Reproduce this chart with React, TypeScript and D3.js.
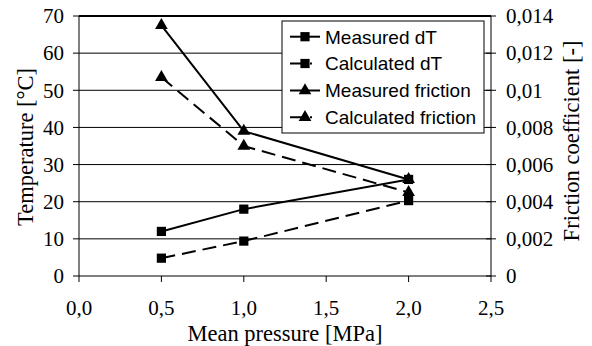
import React from "react";
import * as d3 from "d3";

const pressure = [0.5, 1.0, 2.0];
const measuredDT = [12, 18, 26];
const calculatedDT = [4.8, 9.4, 20.3];
const measuredFriction = [0.0135, 0.0078, 0.0052];
const calculatedFriction = [0.0107, 0.007, 0.0045];
const xTicks = [0, 0.5, 1, 1.5, 2, 2.5];
const yLeftTicks = [0, 10, 20, 30, 40, 50, 60, 70];
const yRightTicks = [0, 0.002, 0.004, 0.006, 0.008, 0.01, 0.012, 0.014];
const legendLabels = ["Measured dT", "Calculated dT", "Measured friction", "Calculated friction"];

const W = 592, H = 346;
const L = 79, R = 491, T = 16, B = 276;
const serif = "'Liberation Serif', 'Times New Roman', serif";
const sans = "'Liberation Sans', Arial, sans-serif";
const DASH = "14,7";

export default function App() {
  const x = d3.scaleLinear().domain([0, 2.5]).range([L, R]);
  const yL = d3.scaleLinear().domain([0, 70]).range([B, T]);
  const yR = d3.scaleLinear().domain([0, 0.014]).range([B, T]);
  const fmtX = (v: number) => v.toFixed(1).replace(".", ",");
  const fmtR = (v: number) => (v === 0 ? "0" : String(+v.toFixed(3)).replace(".", ","));

  const series = [
    { vals: measuredDT, y: yL, dash: undefined as string | undefined, marker: "square" },
    { vals: calculatedDT, y: yL, dash: DASH, marker: "square" },
    { vals: measuredFriction, y: yR, dash: undefined, marker: "triangle" },
    { vals: calculatedFriction, y: yR, dash: DASH, marker: "triangle" },
  ];
  const sq = d3.symbol().type(d3.symbolSquare).size(85)()!;
  const tri = d3.symbol().type(d3.symbolTriangle).size(70)()!;

  const legX = 282, legY = 21, legW = 202, legH = 112;
  const rowY = [36.7, 63.5, 90.5, 117.3];

  return (
    <svg width={W} height={H} style={{ display: "block", position: "absolute", left: 0, top: 0 }}>
      <rect width={W} height={H} fill="#fff" />
      {yLeftTicks.map((t) => (
        <line key={"g" + t} x1={L} x2={R} y1={yL(t)} y2={yL(t)} stroke="#000" strokeWidth={t === 70 ? 2 : 1} />
      ))}
      <line x1={L} x2={L} y1={T} y2={B} stroke="#000" />
      <line x1={R} x2={R} y1={T} y2={B} stroke="#000" />
      {yLeftTicks.map((t) => (
        <g key={"l" + t}>
          <line x1={L - 6} x2={L} y1={yL(t)} y2={yL(t)} stroke="#000" />
          <text x={64} y={yL(t)} dy="0.35em" textAnchor="end" fontFamily={serif} fontSize={21}>{t}</text>
        </g>
      ))}
      {yRightTicks.map((t) => (
        <g key={"r" + t}>
          <line x1={R - 5} x2={R + 5} y1={yR(t)} y2={yR(t)} stroke="#000" />
          <text x={506} y={yR(t)} dy="0.35em" textAnchor="start" fontFamily={serif} fontSize={21}>{fmtR(t)}</text>
        </g>
      ))}
      {xTicks.map((t) => (
        <g key={"x" + t}>
          <line x1={x(t)} x2={x(t)} y1={B} y2={B + 6} stroke="#000" />
          <text x={x(t)} y={315} textAnchor="middle" fontFamily={serif} fontSize={21}>{fmtX(t)}</text>
        </g>
      ))}
      <text x={285} y={341} textAnchor="middle" fontFamily={serif} fontSize={22.5}>Mean pressure [MPa]</text>
      <text transform="translate(33,147) rotate(-90)" textAnchor="middle" fontFamily={serif} fontSize={22.5}>Temperature [°C]</text>
      <text transform="translate(579,141) rotate(-90)" textAnchor="middle" fontFamily={serif} fontSize={22.5}>Friction coefficient [-]</text>

      {series.map((s, i) => {
        const line = d3.line<number>().x((_, j) => x(pressure[j])).y((v) => s.y(v));
        return (
          <g key={"s" + i}>
            <path d={line(s.vals)!} fill="none" stroke="#000" strokeWidth={2} strokeDasharray={s.dash} />
            {s.vals.map((v, j) => (
              <path key={j} d={s.marker === "square" ? sq : tri} transform={`translate(${x(pressure[j])},${s.y(v)})`} fill="#000" />
            ))}
          </g>
        );
      })}

      <rect x={legX} y={legY} width={legW} height={legH} fill="#fff" stroke="#000" strokeWidth={1} />
      {legendLabels.map((lab, i) => (
        <g key={"lg" + i}>
          <line x1={290} x2={i % 2 === 1 ? 323 : 320} y1={rowY[i]} y2={rowY[i]} stroke="#000" strokeWidth={2} strokeDasharray={i % 2 === 1 ? "16,4,2" : undefined} />
          <path d={i < 2 ? sq : tri} transform={`translate(305,${rowY[i]})`} fill="#000" />
          <text x={325} y={rowY[i]} dy="0.36em" fontFamily={sans} fontSize={19}>{lab}</text>
        </g>
      ))}
    </svg>
  );
}
